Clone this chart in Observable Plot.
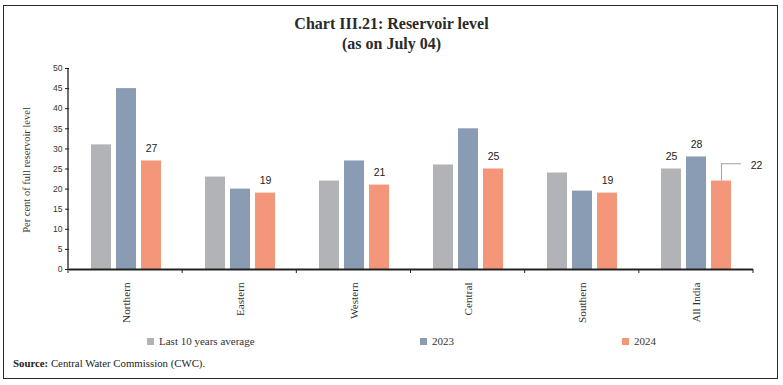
<!DOCTYPE html>
<html>
<head>
<meta charset="utf-8">
<script src="https://cdn.jsdelivr.net/npm/d3@7"></script>
<script src="https://cdn.jsdelivr.net/npm/@observablehq/plot@0.6"></script>
<style>
  html, body { margin: 0; padding: 0; background: #fff; }
  #wrap { position: relative; width: 783px; height: 385px; overflow: hidden; font-family: "Liberation Serif", serif; color: #222; }
  #frame { position: absolute; left: 3px; top: 5px; width: 773px; height: 372px; border: 1.6px solid #2a2a2a; }
  #chart { position: absolute; left: 0; top: 0; }
  .title { position: absolute; left: 0; width: 783px; text-align: center; font-size: 16px; font-weight: bold; color: #2a2a2a; }
  #ylabel { position: absolute; left: 26px; top: 170px; transform: translate(-50%, -50%) rotate(-90deg); white-space: nowrap; font-size: 10.5px; color: #333; }
  .leg { position: absolute; top: 335px; font-size: 11px; color: #333; white-space: nowrap; display: flex; align-items: center; }
  .sw { display: inline-block; width: 7px; height: 7px; margin-right: 5px; }
  #source { position: absolute; left: 13px; top: 357px; font-size: 10.8px; color: #222; white-space: nowrap; }
</style>
</head>
<body>
<div id="wrap">
  <div id="frame"></div>
  <div id="chart"></div>
  <div class="title" style="top:15px">Chart III.21: Reservoir level</div>
  <div class="title" style="top:35px">(as on July 04)</div>
  <div id="ylabel">Per cent of full reservoir level</div>
  <div id="legend"></div>
  <div id="source"><b>Source:</b> Central Water Commission (CWC).</div>
</div>
<script>
const regions = ["Northern", "Eastern", "Western", "Central", "Southern", "All India"];
const seriesNames = ["Last 10 years average", "2023", "2024"];
const avg10 = [31, 23, 22, 26, 24, 25];
const y2023 = [45, 20, 27, 35, 19.5, 28];
const y2024 = [27, 19, 21, 25, 19, 22];
const seriesColors = ["#b2b3b7", "#8a9cb3", "#f4967a"];
const yTicks = [0, 5, 10, 15, 20, 25, 30, 35, 40, 45, 50];
// which bars carry a value label
const labelledAvg = ["All India"];
const labelled2023 = ["All India"];
const labelled2024 = ["Northern", "Eastern", "Western", "Central", "Southern"];
// the offset label with a leader line
const calloutRegion = "All India";
const calloutSeries = "2024";
const calloutLeaderTop = 26.3;
const legendLeft = [147, 420, 622];

const seriesValues = [avg10, y2023, y2024];
const seriesLabelled = [labelledAvg, labelled2023, labelled2024];
const rows = [];
regions.forEach((r, i) => {
  seriesNames.forEach((s, j) => {
    rows.push({region: r, series: s, value: seriesValues[j][i], labelled: seriesLabelled[j].includes(r)});
  });
});
const labelRows = rows.filter(d => d.labelled);
const calloutRows = rows.filter(d => d.region === calloutRegion && d.series === calloutSeries);

const plot = Plot.plot({
  width: 783,
  height: 385,
  marginTop: 68,
  marginBottom: 116,
  marginLeft: 68,
  marginRight: 30,
  style: {background: "transparent", color: "#333", overflow: "visible"},
  fx: {domain: regions, padding: 0, label: null},
  x: {domain: seriesNames, paddingInner: 0.196, paddingOuter: 0.837, axis: null},
  y: {domain: [0, 50], label: null},
  color: {domain: seriesNames, range: seriesColors},
  marks: [
    Plot.barY(rows, {fx: "region", x: "series", y: "value", fill: "series"}),
    Plot.ruleY([0], {stroke: "#222", strokeWidth: 2}),
    Plot.axisY({ticks: yTicks, tickSize: 4, tickPadding: 3, fontSize: 8.5, fontFamily: "Liberation Sans", label: null, stroke: "#222"}),
    Plot.axisFx({anchor: "bottom", tickSize: 0, tickPadding: 13, tickRotate: -90, fontSize: 11.2, fontFamily: "Liberation Serif", label: null, fill: "#333"}),
    Plot.text(labelRows, {fx: "region", x: "series", y: "value", text: d => String(d.value), dy: -12, fontSize: 10.5, fontFamily: "Liberation Sans", fill: "#222"}),
    Plot.ruleX(calloutRows, {fx: "region", x: "series", y1: "value", y2: () => calloutLeaderTop, stroke: "#a0a0a0", strokeWidth: 1}),
    Plot.tickY(calloutRows, {fx: "region", x: "series", y: () => calloutLeaderTop, dx: 10, stroke: "#a0a0a0", strokeWidth: 1}),
    Plot.text(calloutRows, {fx: "region", x: "series", y: () => calloutLeaderTop, text: d => String(d.value), dx: 35, dy: 2, fontSize: 10.5, fontFamily: "Liberation Sans", fill: "#222"})
  ]
});
document.getElementById("chart").appendChild(plot);

// axis line on the left and band-boundary ticks on the bottom, from Plot's own scales
const fxd = plot.scale("fx");
const yd = plot.scale("y");
const fxS = d3.scaleBand(fxd.domain, fxd.range).padding(0);
const yS = d3.scaleLinear(yd.domain, yd.range);
const g = d3.select(plot).append("g").attr("stroke", "#222");
const x0 = fxS.range()[0];
g.append("line").attr("x1", x0).attr("x2", x0).attr("y1", yS(0)).attr("y2", yS(50)).attr("stroke-width", 1.3);
const edges = regions.map(r => fxS(r)).concat([fxS(regions[regions.length - 1]) + fxS.bandwidth()]);
edges.forEach(e => {
  g.append("line").attr("x1", e).attr("x2", e).attr("y1", yS(0)).attr("y2", yS(0) + 4).attr("stroke-width", 1);
});

// legend
const leg = document.getElementById("legend");
seriesNames.forEach((s, i) => {
  const d = document.createElement("div");
  d.className = "leg";
  d.style.left = legendLeft[i] + "px";
  d.innerHTML = `<span class="sw" style="background:${seriesColors[i]}"></span>${s}`;
  leg.appendChild(d);
});
</script>
</body>
</html>
